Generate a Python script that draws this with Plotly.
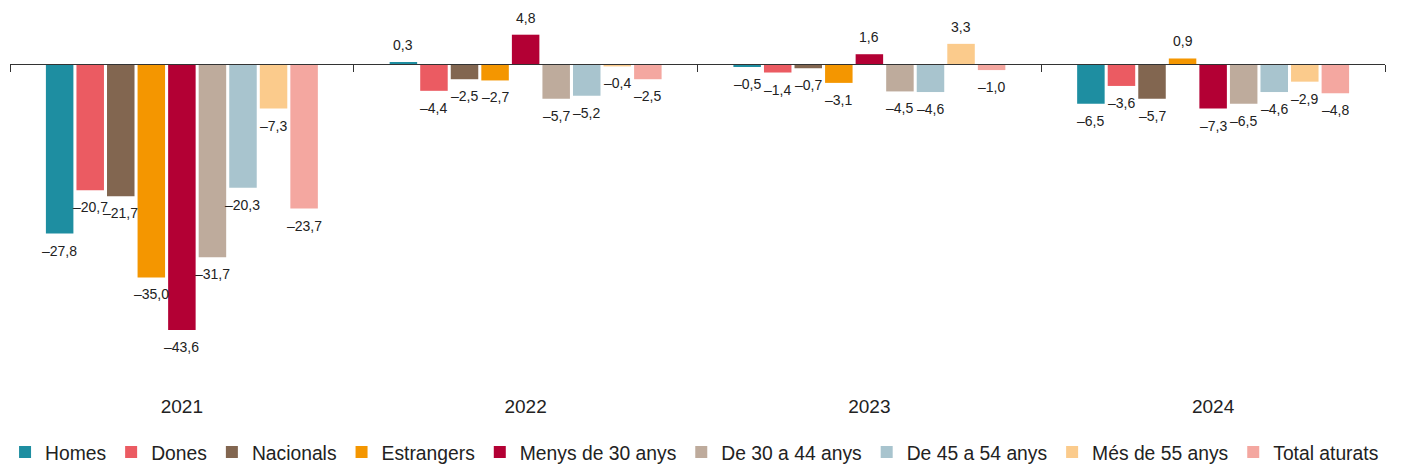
import plotly.graph_objects as go

years = ["2021", "2022", "2023", "2024"]
series_names = ["Homes", "Dones", "Nacionals", "Estrangers", "Menys de 30 anys",
                "De 30 a 44 anys", "De 45 a 54 anys", "Més de 55 anys", "Total aturats"]
homes = [-27.8, 0.3, -0.5, -6.5]
dones = [-20.7, -4.4, -1.4, -3.6]
nacionals = [-21.7, -2.5, -0.7, -5.7]
estrangers = [-35.0, -2.7, -3.1, 0.9]
menys30 = [-43.6, 4.8, 1.6, -7.3]
de30a44 = [-31.7, -5.7, -4.5, -6.5]
de45a54 = [-20.3, -5.2, -4.6, -4.6]
mes55 = [-7.3, -0.4, 3.3, -2.9]
total = [-23.7, -2.5, -1.0, -4.8]
series_values = [homes, dones, nacionals, estrangers, menys30, de30a44, de45a54, mes55, total]
colors = ["#1E8EA1", "#EB5B62", "#826650", "#F49600", "#B30034",
          "#BEAB9C", "#A8C4CE", "#FBCB8C", "#F4A7A0"]

FONT = "Liberation Sans, Arial, Helvetica, sans-serif"
BARGAP = 0.2
YMIN, YMAX = -53.45, 8.85


def fmt(v):
    s = f"{abs(v):.1f}".replace(".", ",")
    return ("\u2013" + s) if v < 0 else s


fig = go.Figure()
n = len(series_names)
annotations = []
for i, (name, vals, col) in enumerate(zip(series_names, series_values, colors)):
    fig.add_trace(go.Bar(name=name, x=years, y=vals, marker_color=col,
                         marker_line_width=0, hoverinfo="x+y+name"))
    slot = (1 - BARGAP) / n
    for g, v in enumerate(vals):
        annotations.append(dict(
            x=g + (i - (n - 1) / 2) * slot, y=v, xref="x", yref="y",
            text=fmt(v), showarrow=False,
            yshift=17 if v >= 0 else -17,
            font=dict(family=FONT, size=14, color="#222222")))

# helper axis drawing the baseline with group separators
fig.add_trace(go.Scatter(x=[], y=[], xaxis="x2", yaxis="y", showlegend=False))

zero_pos = -YMIN / (YMAX - YMIN)
fig.update_layout(
    width=1394, height=460,
    margin=dict(l=2, r=17, t=2, b=78, autoexpand=False),
    barmode="group", bargap=BARGAP, bargroupgap=0.1,
    plot_bgcolor="white", paper_bgcolor="white",
    font=dict(family=FONT, color="#222222"),
    xaxis=dict(type="category", showline=False, ticks="", showgrid=False,
               tickfont=dict(size=19, color="#222222"), range=[-0.5, 3.5],
               ticklabelstandoff=3),
    xaxis2=dict(overlaying="x", anchor="free", position=zero_pos,
                range=[-0.5, 3.5], tickvals=[-0.5, 0.5, 1.5, 2.5, 3.5],
                showticklabels=False, showline=True, linecolor="#333333",
                linewidth=1, ticks="outside", ticklen=7, tickcolor="#333333",
                tickwidth=1, showgrid=False, zeroline=False, side="bottom"),
    yaxis=dict(range=[YMIN, YMAX], visible=False, showgrid=False, zeroline=False),
    showlegend=True,
    legend=dict(orientation="h", x=-0.0036, y=-0.113, xanchor="left", yanchor="top",
                font=dict(size=19.3, color="#222222"), traceorder="normal"),
    annotations=annotations,
)

fig.write_html("out.html")
